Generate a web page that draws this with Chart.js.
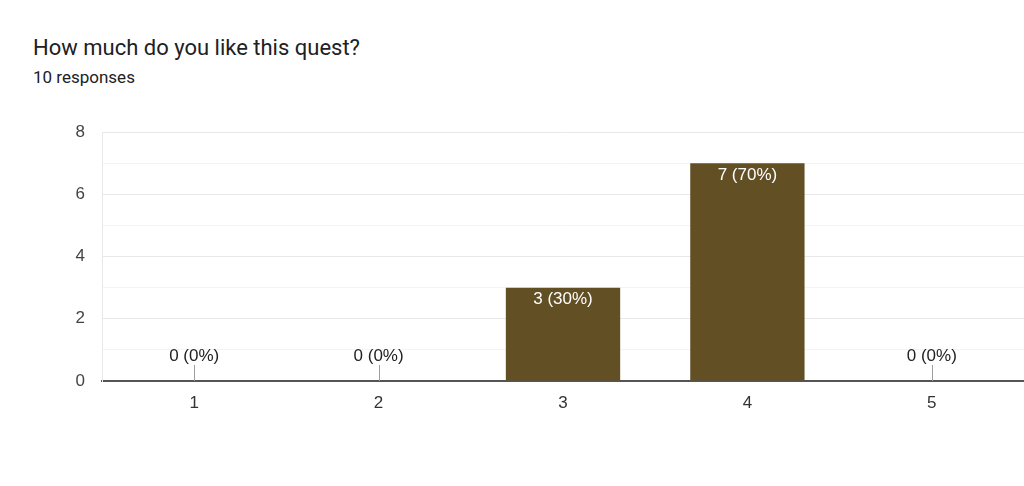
<!DOCTYPE html>
<html>
<head>
<meta charset="utf-8">
<script src="https://cdn.jsdelivr.net/npm/chart.js@4"></script>
<style>
  body { margin: 0; background: #fff; font-family: Roboto, sans-serif; }
  #wrap { position: relative; width: 1024px; height: 486px; }
  #title { position: absolute; left: 33px; top: 35px; font-size: 22px; line-height: 26px; color: #202124; }
  #sub { position: absolute; left: 33px; top: 67px; font-size: 17px; line-height: 20px; color: #202124; }
  canvas { position: absolute; left: 0; top: 0; }
</style>
</head>
<body>
<div id="wrap">
  <div id="title">How much do you like this quest?</div>
  <div id="sub">10 responses</div>
  <canvas id="chart" width="1024" height="486"></canvas>
</div>
<script>
const ratings = ["1", "2", "3", "4", "5"];
const counts = [0, 0, 3, 7, 0];
const yTicks = [0, 2, 4, 6, 8];

const total = counts.reduce((a, b) => a + b, 0);
const chartFont = "'Liberation Sans', Arial, sans-serif";

// value labels and the little stubs for empty bars
const barLabels = {
  id: "barLabels",
  afterDatasetsDraw(chart) {
    const ctx = chart.ctx;
    const meta = chart.getDatasetMeta(0);
    const yScale = chart.scales.y;
    ctx.save();
    ctx.font = "17px " + chartFont;
    ctx.textAlign = "center";
    ctx.textBaseline = "middle";
    meta.data.forEach((bar, i) => {
      const v = counts[i];
      const txt = v + " (" + Math.round(v / total * 100) + "%)";
      if (v === 0) {
        const base = yScale.getPixelForValue(0);
        ctx.strokeStyle = "#9e9e9e";
        ctx.lineWidth = 1;
        ctx.beginPath();
        ctx.moveTo(Math.round(bar.x) + 0.5, base - 16);
        ctx.lineTo(Math.round(bar.x) + 0.5, base);
        ctx.stroke();
        ctx.fillStyle = "#222";
        ctx.fillText(txt, bar.x, base - 25);
      } else {
        ctx.fillStyle = "#fff";
        ctx.fillText(txt, bar.x, bar.y + 12);
      }
    });
    ctx.restore();
  }
};

const ctx = document.getElementById("chart").getContext("2d");
new Chart(ctx, {
  type: "bar",
  data: {
    labels: ratings,
    datasets: [{
      data: counts,
      backgroundColor: "#624f24",
      borderWidth: 0,
      barPercentage: 0.62,
      categoryPercentage: 1
    }]
  },
  options: {
    responsive: false,
    animation: false,
    layout: { padding: { top: 132, right: 0, bottom: 0, left: 0 } },
    plugins: { legend: { display: false }, tooltip: { enabled: false } },
    scales: {
      x: {
        grid: { display: false, drawTicks: false },
        border: { display: true, color: "#555", width: 2 },
        ticks: { color: "#333", font: { family: chartFont, size: 17 }, padding: 12 },
        afterFit(scale) { scale.height = 105; }
      },
      y: {
        min: 0,
        max: 8,
        afterBuildTicks(scale) {
          scale.ticks = [0, 1, 2, 3, 4, 5, 6, 7, 8].map(v => ({ value: v }));
        },
        ticks: {
          color: "#444",
          font: { family: chartFont, size: 17 },
          padding: 17,
          callback: v => yTicks.includes(v) ? String(v) : ""
        },
        grid: {
          drawTicks: false,
          color: c => c.tick.value === 0 ? "rgba(0,0,0,0)" : (c.tick.value % 2 === 0 ? "#e8e8e8" : "#f4f4f4")
        },
        border: { display: true, color: "#e8e8e8" },
        afterFit(scale) { scale.width = 102; }
      }
    }
  },
  plugins: [barLabels]
});
</script>
</body>
</html>
